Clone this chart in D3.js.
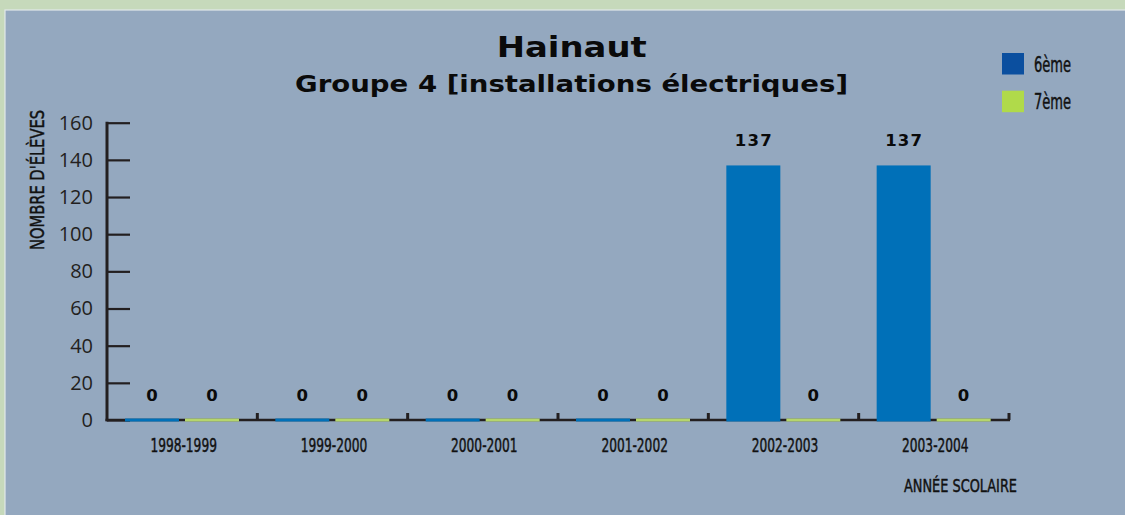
<!DOCTYPE html>
<html>
<head>
<meta charset="utf-8">
<script src="https://cdn.jsdelivr.net/npm/d3@7"></script>
<style>
  html, body { margin: 0; padding: 0; background: #c6d9bb; }
  svg { display: block; }
</style>
</head>
<body>
<svg id="chart" width="1125" height="515"></svg>
<script>
// ---- data ----
const categories = ["1998-1999", "1999-2000", "2000-2001", "2001-2002", "2002-2003", "2003-2004"];
const seriesNames = ["6ème", "7ème"];
const values6 = [0, 0, 0, 0, 137, 137];
const values7 = [0, 0, 0, 0, 0, 0];
const yTicks = [0, 20, 40, 60, 80, 100, 120, 140, 160];
const titleText = "Hainaut";
const subtitleText = "Groupe 4 [installations électriques]";
const yTitle = "NOMBRE D'ÉLÈVES";
const xTitle = "ANNÉE SCOLAIRE";

const barColors = ["#0070b8", "#b6d66c"];
const legendColors = ["#0b4f9f", "#b0da4a"];
const axisColor = "#231f20";
const condensed = "'Liberation Sans Narrow', 'DejaVu Sans Condensed', sans-serif";

const svg = d3.select("#chart");

// panel
svg.append("rect").attr("x", 5).attr("y", 10).attr("width", 1125).attr("height", 520)
  .attr("fill", "#94a8bf").attr("stroke", "#e2e8ea").attr("stroke-width", 1.2);

// scales
const x0 = d3.scaleBand().domain(categories).range([107, 1009]).paddingInner(0).paddingOuter(0);
const x1 = d3.scaleBand().domain(seriesNames).range([18, 132]).paddingInner(0.1).paddingOuter(0);
const y = d3.scaleLinear().domain([0, 160]).range([420, 122.7]);

// helper for condensed labels: regular weight, slightly thickened
function condStyle(sel, size) {
  sel.style("font-family", condensed).style("font-size", size + "px")
    .attr("fill", "#111").attr("stroke", "#111").attr("stroke-width", 0.45);
}

// title
svg.append("text").text(titleText)
  .attr("x", 571.7).attr("y", 56.7).attr("text-anchor", "middle")
  .attr("textLength", 150).attr("lengthAdjust", "spacingAndGlyphs")
  .style("font-family", "'DejaVu Sans', sans-serif").style("font-weight", "bold")
  .style("font-size", "28px").attr("fill", "#0a0a0a");
svg.append("text").text(subtitleText)
  .attr("x", 571.5).attr("y", 91.5).attr("text-anchor", "middle")
  .attr("textLength", 553).attr("lengthAdjust", "spacingAndGlyphs")
  .style("font-family", "'DejaVu Sans', sans-serif").style("font-weight", "bold")
  .style("font-size", "22.5px").attr("fill", "#0a0a0a");

// y axis
const yAxis = d3.axisLeft(y).tickValues(yTicks).tickSize(-23).tickPadding(14).tickFormat(d3.format("d"));
const gy = svg.append("g").attr("transform", "translate(107,0)").call(yAxis);
gy.select(".domain").remove();
gy.selectAll(".tick line").attr("stroke", axisColor).attr("stroke-width", 2.2);
gy.selectAll(".tick text").attr("fill", "#231f20")
  .style("font-family", "'Open Sans', sans-serif").style("font-size", "20px");
svg.append("line").attr("x1", 107).attr("x2", 107).attr("y1", y(160) - 1).attr("y2", y(0) + 1.2)
  .attr("stroke", axisColor).attr("stroke-width", 3);

// x axis baseline
svg.append("line").attr("x1", 105.5).attr("x2", x0.range()[1] + 1).attr("y1", y(0)).attr("y2", y(0))
  .attr("stroke", axisColor).attr("stroke-width", 2.4);
// boundary ticks
const boundaries = categories.map(c => x0(c) + x0.bandwidth());
svg.selectAll(".btick").data(boundaries).enter().append("line")
  .attr("x1", d => d).attr("x2", d => d).attr("y1", y(0) - 7).attr("y2", y(0))
  .attr("stroke", axisColor).attr("stroke-width", 3);

// x tick labels
svg.selectAll(".xlab").data(categories).enter().append("text")
  .text(d => d)
  .attr("x", d => x0(d) + x0.bandwidth() / 2 + 1.5).attr("y", 451.7)
  .attr("text-anchor", "middle")
  .attr("textLength", 66.5).attr("lengthAdjust", "spacingAndGlyphs")
  .call(condStyle, 19.5);

// bars
const rows = categories.map((c, i) => ({ cat: c, vals: [values6[i], values7[i]] }));
const groups = svg.selectAll(".grp").data(rows).enter().append("g")
  .attr("transform", d => `translate(${x0(d.cat)},0)`);
const minH = 3;
groups.selectAll("rect").data(d => d.vals.map((v, j) => ({ v, s: seriesNames[j], j })))
  .enter().append("rect")
  .attr("x", d => x1(d.s)).attr("width", x1.bandwidth())
  .attr("y", d => Math.min(y(d.v), y(0) + 1.5 - minH))
  .attr("height", d => Math.max(y(0) + 1.5 - y(d.v), minH))
  .attr("fill", d => barColors[d.j]);

// value labels
groups.selectAll(".vlab").data(d => d.vals.map((v, j) => ({ v, s: seriesNames[j], j })))
  .enter().append("text")
  .text(d => d.v)
  .attr("x", d => x1(d.s) + x1.bandwidth() / 2 + 0.5).attr("y", d => y(d.v) - 19)
  .attr("text-anchor", "middle")
  .style("letter-spacing", "1.2px")
  .style("font-family", "'DejaVu Sans', sans-serif").style("font-weight", "bold")
  .style("font-size", "16.5px").attr("fill", "#0a0a0a");

// axis titles
svg.append("text").text(yTitle)
  .attr("transform", "translate(44,180) rotate(-90)")
  .attr("text-anchor", "middle")
  .attr("textLength", 140).attr("lengthAdjust", "spacingAndGlyphs")
  .call(condStyle, 19.5);
svg.append("text").text(xTitle)
  .attr("x", 1017).attr("y", 491.7).attr("text-anchor", "end")
  .attr("textLength", 113).attr("lengthAdjust", "spacingAndGlyphs")
  .call(condStyle, 18.5);

// legend
const legend = svg.selectAll(".leg").data(seriesNames).enter().append("g")
  .attr("transform", (d, i) => `translate(1002,${53 + i * 37.7})`);
legend.append("rect").attr("width", 22).attr("height", 21.5).attr("fill", (d, i) => legendColors[i]);
legend.append("text").text(d => d)
  .attr("x", 32).attr("y", 18.7)
  .attr("textLength", 37).attr("lengthAdjust", "spacingAndGlyphs")
  .call(condStyle, 21);
</script>
</body>
</html>
